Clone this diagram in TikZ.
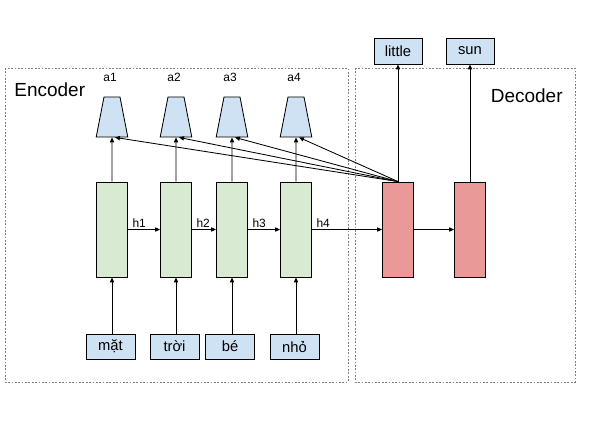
\documentclass[tikz,border=0pt]{standalone}
\usepackage{fontspec}
\setmainfont{Liberation Sans}
\usetikzlibrary{arrows.meta,positioning,shapes.geometric,calc}
\definecolor{inblue}{HTML}{CFE2F3}
\definecolor{encgreen}{HTML}{D9EAD3}
\definecolor{decred}{HTML}{EA9999}

\begin{document}
\begin{tikzpicture}[x=0.025cm, y=-0.025cm, >={Triangle[length=3.5pt,width=3pt]}, line width=0.6pt,
  cell/.style={draw, minimum width=0.775cm, minimum height=2.375cm, inner sep=0},
  att/.style={draw, fill=inblue, trapezium, trapezium angle=79, text width=0.4cm, text height=1cm, text depth=0pt, inner sep=0},
  word/.style={draw, fill=inblue, minimum width=1.225cm, minimum height=0.625cm, inner sep=0, font=\fontsize{10.5}{12}\selectfont},
  lbl/.style={font=\fontsize{8.5}{10}\selectfont, inner sep=1pt},
  title/.style={font=\fontsize{13.5}{16}\selectfont, inner sep=0},
  frame/.style={draw=gray, dash pattern=on 1.2pt off 1.2pt, line width=0.5pt}]
\useasboundingbox (0,0) rectangle (603,420);
\draw[frame] (5,68) rectangle (348,382);
\draw[frame] (355,68) rectangle (575,382);
\node[title, anchor=west] (enctitle) at (14,89.5) {Encoder};
\node[title, anchor=east] (dectitle) at (563,96) {Decoder};
% encoder side
\foreach \i/\x/\w/\wx in {1/112/mặt/110.5, 2/176/trời/174.5, 3/232/bé/230, 4/296/nhỏ/294.5} {
  \node[cell, fill=encgreen] (enc\i) at (\x,229.5) {};
  \node[att] (att\i) at (\x,117) {};
  \node[lbl] (alab\i) at (\x-2,77) {a\i};
  \node[word] (w\i) at (\wx,346.5) {\w};
  \draw[->] (w\i.north -| enc\i) -- (enc\i.south);
  \draw[->] (enc\i.north) -- (att\i.south);
}
\foreach \i/\j in {1/2,2/3,3/4}
  \draw[->] (enc\i.east) -- (enc\j.west) node[pos=0, lbl, above right, xshift=2pt] {h\i};
% decoder side
\node[cell, fill=decred] (dec1) at (398,229.5) {};
\node[cell, fill=decred] (dec2) at (470,229.5) {};
\node[word, minimum width=1.2cm, minimum height=0.65cm] (out1) at (398,51) {little};
\node[word, minimum width=1.2cm, minimum height=0.65cm] (out2) at (470,51) {sun};
\draw[->] (enc4.east) -- (dec1.west) node[pos=0, lbl, above right, xshift=2pt] {h4};
\draw[->] (dec1.east) -- (dec2.west);
\draw[->] (dec1.north) -- (out1.south);
\draw[->] (dec2.north) -- (out2.south);
\foreach \i in {1,...,4} \draw[->] (dec1.north) -- ($(att\i.south)+(3,0)$);
\end{tikzpicture}
\end{document}
